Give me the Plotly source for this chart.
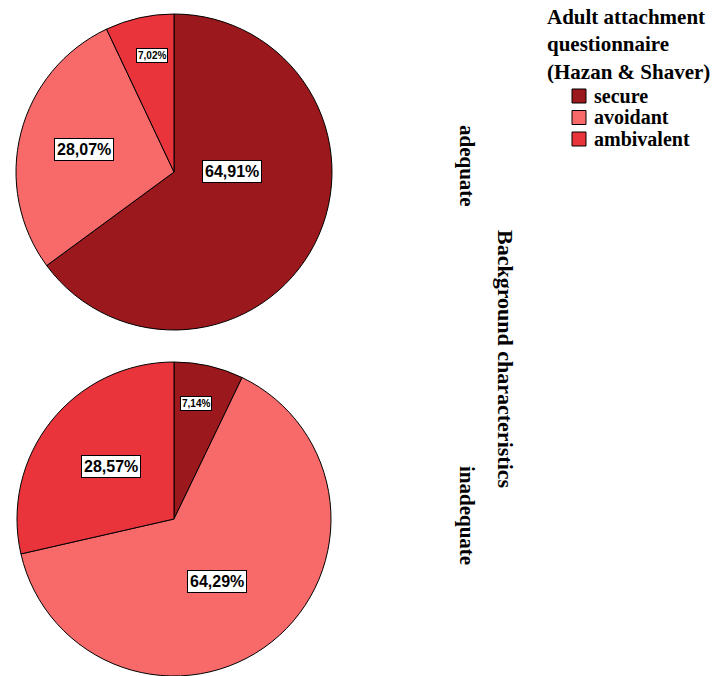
import math
import plotly.graph_objects as go

# Attachment style counts per background group
categories = ["secure", "avoidant", "ambivalent"]
adequate_counts = [37, 16, 4]
inadequate_counts = [1, 9, 4]
group_labels = ["adequate", "inadequate"]
legend_title = "Adult attachment<br>questionnaire<br>(Hazan & Shaver)"
axis_title = "Background characteristics"

colors = ["#9B181C", "#F86A6A", "#E8343A"]

W, H = 715, 676
# pie centres / radii in pixels
pies = [
    dict(cx=174, cy=172, r=158, counts=adequate_counts),
    dict(cx=174, cy=519, r=157, counts=inadequate_counts),
]
# label placement: (radial fraction, angle tweak in degrees) per slice
label_place = [
    [(0.37, -27), (0.59, 0), (0.75, 2)],
    [(0.75, -2), (0.48, 4), (0.52, 1)],
]

serif = "Liberation Serif, Times New Roman, serif"


def px_x(x):
    return x / W


def px_y(y):
    return 1 - y / H


fig = go.Figure()
annotations = []
shapes = []
for i, p in enumerate(pies):
    x0, x1 = (p["cx"] - p["r"]) / W, (p["cx"] + p["r"]) / W
    y0, y1 = 1 - (p["cy"] + p["r"]) / H, 1 - (p["cy"] - p["r"]) / H
    fig.add_trace(go.Pie(
        labels=categories,
        values=p["counts"],
        sort=False,
        direction="clockwise",
        rotation=0,
        marker=dict(colors=colors, line=dict(color="black", width=1)),
        textinfo="none",
        hoverinfo="label+percent",
        domain=dict(x=[max(0, x0), x1], y=[max(0, y0), min(1, y1)]),
        showlegend=False,
        name=group_labels[i],
    ))
    total = sum(p["counts"])
    cum = 0
    for j, c in enumerate(p["counts"]):
        share = c / total
        mid = (cum + share / 2) * 360
        cum += share
        frac, tweak = label_place[i][j]
        a = math.radians(mid + tweak)
        lx = p["cx"] + frac * p["r"] * math.sin(a)
        ly = p["cy"] - frac * p["r"] * math.cos(a)
        txt = f"{share * 100:.2f}%".replace(".", ",")
        small = share < 0.1
        annotations.append(dict(
            x=px_x(lx), y=px_y(ly), xref="paper", yref="paper",
            xanchor="center", yanchor="middle",
            text=txt, showarrow=False,
            font=dict(family="Liberation Sans, Arial", size=10 if small else 16,
                      color="black", weight="bold"),
            bgcolor="white", bordercolor="black", borderwidth=1,
            borderpad=1 if small else 2,
        ))

# rotated group and axis titles
for text, cx, cy, fs in [(group_labels[0], 467, 166, 21),
                         (group_labels[1], 467, 515, 21),
                         (axis_title, 506, 359, 22)]:
    annotations.append(dict(
        x=px_x(cx), y=px_y(cy), xref="paper", yref="paper",
        xanchor="center", yanchor="middle", text=text,
        textangle=90, showarrow=False,
        font=dict(family=serif, size=fs, color="black", weight="bold")))

# legend: title plus colour keys
annotations.append(dict(
    x=px_x(545), y=px_y(3), xref="paper", yref="paper",
    xanchor="left", yanchor="top", align="left", text=legend_title,
    showarrow=False, font=dict(family=serif, size=21, color="black", weight="bold")))
row_y0, row_step = 96, 21.5
for k, (cat, col) in enumerate(zip(categories, colors)):
    yc = row_y0 + k * row_step
    shapes.append(dict(
        type="rect", xref="paper", yref="paper",
        x0=px_x(572), x1=px_x(586), y0=px_y(yc + 7), y1=px_y(yc - 7),
        fillcolor=col, line=dict(color="black", width=1)))
    annotations.append(dict(
        x=px_x(592), y=px_y(yc), xref="paper", yref="paper",
        xanchor="left", yanchor="middle", text=cat, showarrow=False,
        font=dict(family=serif, size=20, color="black", weight="bold")))

fig.update_layout(
    width=W, height=H,
    margin=dict(l=0, r=0, t=0, b=0),
    paper_bgcolor="white", plot_bgcolor="white",
    annotations=annotations,
    shapes=shapes,
    showlegend=False,
)

fig.write_html("out.html")
